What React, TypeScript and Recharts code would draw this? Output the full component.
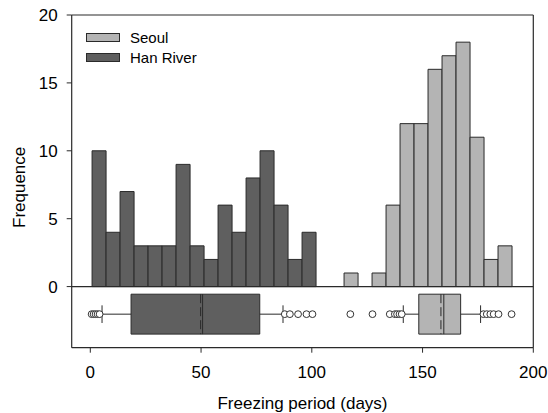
import { ComposedChart, Bar, Scatter, XAxis, YAxis, ReferenceLine, ReferenceArea, Legend } from 'recharts';

const FONT = '"Liberation Sans", Arial, sans-serif';
const LINE = '#2a2a2a';
const SEOUL_FILL = '#b4b4b4';
const HAN_FILL = '#5f5f5f';

// histogram bins: centre of each bin (days)
const binCenters = [
  3.96, 10.28, 16.6, 22.92, 29.24, 35.56, 41.88, 48.2, 54.52, 60.84,
  67.16, 73.48, 79.8, 86.12, 92.44, 98.76, 105.08, 111.4, 117.72, 124.04,
  130.36, 136.68, 143.0, 149.32, 155.64, 161.96, 168.28, 174.6, 180.92, 187.24,
];
const hanRiverCounts = [10, 4, 7, 3, 3, 3, 9, 3, 2, 6, 4, 8, 10, 6, 2, 4, 0, 0, 0, 0, 0, 0, 0, 0, 0, 0, 0, 0, 0, 0];
const seoulCounts = [0, 0, 0, 0, 0, 0, 0, 0, 0, 0, 0, 0, 0, 0, 0, 0, 0, 0, 1, 0, 1, 6, 12, 12, 16, 17, 18, 11, 2, 3];

// box plot summaries (10th pct, q1, median, q3, 90th pct) and means
const hanRiverBox = [5.3, 18.4, 50.7, 76.5, 87.0];
const hanRiverMean = 49.8;
const seoulBox = [141.3, 148.3, 159.6, 167.2, 176.2];
const seoulMean = 158.3;

// points outside the whiskers
const hanRiverOutliers = [0.6, 1.5, 2.4, 3.3, 4.2, 87.8, 90.1, 93.8, 97.6, 100.3];
const seoulOutliers = [117.4, 127.4, 135.2, 137.5, 138.5, 139.6, 140.6, 177.5, 179.0, 180.6, 182.1, 184.3, 190.2];

const xTicks = [0, 50, 100, 150, 200];
const yTicks = [0, 5, 10, 15, 20];

const X_DOMAIN = [-8.4, 200];
const Y_DOMAIN = [-4.5, 20];
// vertical placement of the box plot strip below the histogram
const BOX_TOP = -0.56;
const BOX_BOTTOM = -3.5;
const BOX_MID = -2.03;
const CAP = 0.65;

const chartData = binCenters.map((x, i) => ({
  x,
  seoul: seoulCounts[i],
  hanRiver: hanRiverCounts[i],
}));

const legendItems = [
  { name: 'Seoul', color: SEOUL_FILL },
  { name: 'Han River', color: HAN_FILL },
];

const renderLegend = () => (
  <div style={{ fontFamily: FONT, fontSize: 15, color: '#000' }}>
    {legendItems.map((item) => (
      <div key={item.name} style={{ display: 'flex', alignItems: 'center', height: 19.5 }}>
        <span
          style={{
            display: 'inline-block',
            width: 34,
            height: 9,
            boxSizing: 'border-box',
            background: item.color,
            border: `1px solid ${LINE}`,
            marginRight: 10,
          }}
        />
        <span>{item.name}</span>
      </div>
    ))}
  </div>
);

const OutlierDot = (props: any) => (
  <circle cx={props.cx} cy={props.cy} r={3.4} fill="#fff" stroke="#333" strokeWidth={1} />
);

const renderBox = (stats: number[], mean: number, fill: string, id: string) => {
  const [low, q1, median, q3, high] = stats;
  const line = { xAxisId: 'box', stroke: LINE, strokeWidth: 1 };
  return [
    <ReferenceLine key={`${id}-wl`} {...line} segment={[{ x: low, y: BOX_MID }, { x: q1, y: BOX_MID }]} />,
    <ReferenceLine key={`${id}-wh`} {...line} segment={[{ x: q3, y: BOX_MID }, { x: high, y: BOX_MID }]} />,
    <ReferenceLine key={`${id}-cl`} {...line} segment={[{ x: low, y: BOX_MID + CAP }, { x: low, y: BOX_MID - CAP }]} />,
    <ReferenceLine key={`${id}-ch`} {...line} segment={[{ x: high, y: BOX_MID + CAP }, { x: high, y: BOX_MID - CAP }]} />,
    <ReferenceArea
      key={`${id}-box`}
      xAxisId="box"
      x1={q1}
      x2={q3}
      y1={BOX_BOTTOM}
      y2={BOX_TOP}
      fill={fill}
      fillOpacity={1}
      stroke={LINE}
      strokeWidth={1}
    />,
    <ReferenceLine key={`${id}-med`} {...line} segment={[{ x: median, y: BOX_TOP }, { x: median, y: BOX_BOTTOM }]} />,
    <ReferenceLine
      key={`${id}-mean`}
      {...line}
      strokeDasharray="9 4"
      segment={[{ x: mean, y: BOX_TOP }, { x: mean, y: BOX_BOTTOM }]}
    />,
  ];
};

const App = () => {
  const hanPoints = hanRiverOutliers.map((x) => ({ x, y: BOX_MID }));
  const seoulPoints = seoulOutliers.map((x) => ({ x, y: BOX_MID }));

  return (
    <div style={{ position: 'absolute', left: 0, top: 0, background: '#fff' }}>
      <ComposedChart
        width={548}
        height={413}
        data={chartData}
        margin={{ top: 15, right: 14.7, bottom: 0, left: 0 }}
        barCategoryGap={0}
        barGap={0}
      >
        <XAxis
          xAxisId="hist"
          dataKey="x"
          type="number"
          domain={X_DOMAIN}
          ticks={xTicks}
          allowDataOverflow
          height={65.3}
          tickSize={5}
          tickMargin={13}
          axisLine={{ stroke: LINE, strokeWidth: 1.2 }}
          tickLine={{ stroke: LINE }}
          tick={{ fontSize: 17, fill: '#000', fontFamily: FONT }}
          label={{
            value: 'Freezing period (days)',
            position: 'insideBottom',
            offset: 4,
            fontSize: 17,
            fill: '#000',
            fontFamily: FONT,
          }}
        />
        <XAxis
          xAxisId="box"
          dataKey="x"
          type="number"
          domain={X_DOMAIN}
          allowDataOverflow
          orientation="top"
          height={0}
          hide
        />
        <YAxis
          type="number"
          domain={Y_DOMAIN}
          ticks={yTicks}
          allowDataOverflow
          width={71.7}
          tickSize={5}
          tickMargin={9}
          axisLine={{ stroke: LINE, strokeWidth: 1.2 }}
          tickLine={{ stroke: LINE }}
          tick={{ fontSize: 17, fill: '#000', fontFamily: FONT }}
          label={{
            value: 'Frequence',
            angle: -90,
            position: 'insideLeft',
            offset: 19,
            dy: 6,
            fontSize: 17,
            fill: '#000',
            fontFamily: FONT,
            style: { textAnchor: 'middle' },
          }}
        />
        {/* frame */}
        <ReferenceLine xAxisId="box" y={20} stroke={LINE} strokeWidth={1.2} />
        <ReferenceLine xAxisId="box" x={200} stroke={LINE} strokeWidth={1.2} />

        <Bar xAxisId="hist" dataKey="seoul" name="Seoul" stackId="h" fill={SEOUL_FILL} stroke={LINE} strokeWidth={1} isAnimationActive={false} />
        <Bar xAxisId="hist" dataKey="hanRiver" name="Han River" stackId="h" fill={HAN_FILL} stroke={LINE} strokeWidth={1} isAnimationActive={false} />

        <ReferenceLine xAxisId="box" y={0} stroke={LINE} strokeWidth={1.2} />

        {renderBox(hanRiverBox, hanRiverMean, HAN_FILL, 'han')}
        {renderBox(seoulBox, seoulMean, SEOUL_FILL, 'seoul')}

        <Scatter xAxisId="box" data={hanPoints} dataKey="y" shape={OutlierDot} isAnimationActive={false} />
        <Scatter xAxisId="box" data={seoulPoints} dataKey="y" shape={OutlierDot} isAnimationActive={false} />

        <Legend
          content={renderLegend}
          layout="vertical"
          align="center"
          verticalAlign="middle"
          wrapperStyle={{ left: 86, top: 28 }}
        />
      </ComposedChart>
    </div>
  );
};

export default App;
